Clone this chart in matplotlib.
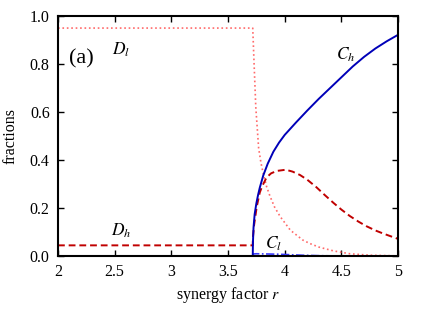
import matplotlib
matplotlib.use('Agg')
import matplotlib.pyplot as plt

plt.rcParams['font.family'] = ['Liberation Serif', 'DejaVu Serif']
plt.rcParams['mathtext.fontset'] = 'stix'

# values
r_c_h = [2.0, 3.718, 3.72, 3.725, 3.735, 3.75, 3.765, 3.78, 3.81, 3.85, 3.9, 3.95, 4.0, 4.1, 4.2, 4.3, 4.4, 4.5, 4.6, 4.7, 4.8, 4.9, 5.0]
c_h = [0.0, 0.0, 0.06, 0.12, 0.175, 0.22, 0.255, 0.285, 0.335, 0.385, 0.435, 0.473, 0.505, 0.557, 0.607, 0.655, 0.70, 0.745, 0.79, 0.83, 0.865, 0.895, 0.922]

r_d_h = [2.0, 3.718, 3.72, 3.73, 3.753, 3.78, 3.80, 3.84, 3.88, 3.93, 4.01, 4.07, 4.135, 4.2, 4.28, 4.35, 4.43, 4.5, 4.575, 4.65, 4.72, 4.8, 4.87, 4.94, 5.0]
d_h = [0.045, 0.045, 0.08, 0.13, 0.205, 0.265, 0.29, 0.328, 0.345, 0.355, 0.36, 0.352, 0.338, 0.318, 0.287, 0.256, 0.222, 0.194, 0.167, 0.144, 0.125, 0.107, 0.094, 0.082, 0.072]

r_d_l = [2.0, 3.718, 3.73, 3.745, 3.77, 3.79, 3.81, 3.84, 3.87, 3.91, 3.96, 4.05, 4.16, 4.22, 4.3, 4.43, 4.575, 4.75, 5.0]
d_l = [0.95, 0.95, 0.80, 0.62, 0.45, 0.39, 0.345, 0.29, 0.25, 0.205, 0.165, 0.108, 0.067, 0.053, 0.038, 0.022, 0.01, 0.004, 0.001]

r_c_l = [2.0, 3.718, 3.72, 3.75, 3.85, 3.95, 4.05, 4.15, 4.3, 4.45, 4.6, 5.0]
c_l = [0.0, 0.0, 0.009, 0.01, 0.009, 0.008, 0.006, 0.004, 0.002, 0.001, 0.0, 0.0]

x_ticks = [2, 2.5, 3, 3.5, 4, 4.5, 5]
x_tick_labels = ['2', '2.5', '3', '3.5', '4', '4.5', '5']
y_ticks = [0.0, 0.2, 0.4, 0.6, 0.8, 1.0]

fig = plt.figure(figsize=(4.36, 3.09), dpi=100)
ax = fig.add_axes([0.133, 0.171, 0.78, 0.777])

ax.plot(r_d_l, d_l, color='#ff6a6a', linestyle=':', linewidth=1.2)
ax.plot(r_d_h, d_h, color='#c00000', linestyle=(0, (3.5, 2)), linewidth=1.4)
ax.plot(r_c_l, c_l, color='#3a3aff', linestyle=(0, (5, 1.5, 1, 1.5)), linewidth=1.2)
ax.plot(r_c_h, c_h, color='#0000b8', linestyle='-', linewidth=1.4)

ax.set_xlim(2, 5)
ax.set_ylim(0, 1.0)
ax.set_xticks(x_ticks)
ax.set_xticklabels(x_tick_labels)
ax.set_yticks(y_ticks)
ax.set_yticklabels(['%.1f' % v for v in y_ticks])
ax.tick_params(direction='in', top=True, right=True, length=4, width=1, labelsize=11.5, pad=6)
for s in ax.spines.values():
    s.set_linewidth(1.5)

ax.set_xlabel('synergy factor $r$', fontsize=11.5, labelpad=3)
ax.set_ylabel('fractions', fontsize=11.5, labelpad=8)

ax.text(2.21, 0.82, '(a)', fontsize=16, ha='center', va='center')
ax.text(2.56, 0.86, '$D_l$', fontsize=12.5, ha='center', va='center')
ax.text(4.54, 0.84, '$C_h$', fontsize=12.5, ha='center', va='center')
ax.text(2.56, 0.105, '$D_h$', fontsize=12.5, ha='center', va='center')
ax.text(3.9, 0.05, '$C_l$', fontsize=12.5, ha='center', va='center')

fig.savefig('out.png', dpi=100)
